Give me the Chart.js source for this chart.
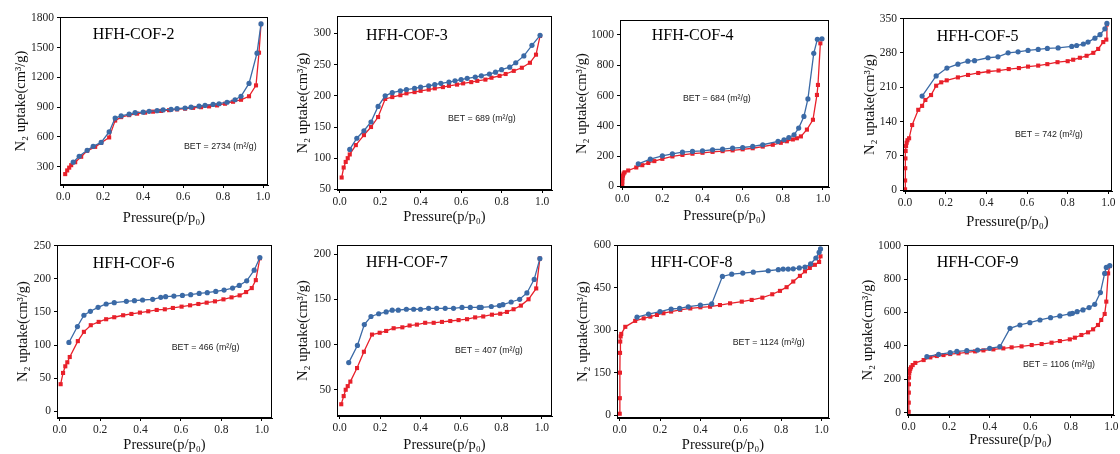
<!DOCTYPE html>
<html><head><meta charset="utf-8">
<script src="https://cdn.jsdelivr.net/npm/chart.js@4.4.1/dist/chart.umd.min.js"></script>
<style>
html,body{margin:0;padding:0;background:#fff;width:1120px;height:454px;overflow:hidden;position:relative}
.pn{position:absolute}
</style></head><body>
<script>
// ---------- DATA ----------
const panelNames = ['HFH-COF-2','HFH-COF-3','HFH-COF-4','HFH-COF-5','HFH-COF-6','HFH-COF-7','HFH-COF-8','HFH-COF-9'];
const betValues = [2734, 689, 684, 742, 466, 407, 1124, 1106];
const xTickValues = [0, 0.2, 0.4, 0.6, 0.8, 1.0];

const cof2YTicks = [300, 600, 900, 1200, 1500, 1800];
const cof3YTicks = [50, 100, 150, 200, 250, 300];
const cof4YTicks = [0, 200, 400, 600, 800, 1000];
const cof5YTicks = [0, 70, 140, 210, 280, 350];
const cof6YTicks = [0, 50, 100, 150, 200, 250];
const cof7YTicks = [50, 100, 150, 200];
const cof8YTicks = [0, 150, 300, 450, 600];
const cof9YTicks = [0, 200, 400, 600, 800, 1000];

// COF-2
const cof2AdsX = [0.01,0.02,0.03,0.04,0.06,0.09,0.12,0.16,0.19,0.23,0.26,0.29,0.33,0.37,0.41,0.45,0.49,0.53,0.57,0.61,0.65,0.69,0.73,0.77,0.81,0.85,0.89,0.93,0.965,0.98,0.99];
const cof2AdsY = [225,262,290,315,345,400,460,500,540,595,765,800,820,835,845,855,862,870,878,885,893,900,908,918,935,955,975,1010,1120,1450,1740];
const cof2DesX = [0.99,0.97,0.93,0.89,0.86,0.82,0.78,0.75,0.71,0.68,0.64,0.61,0.57,0.54,0.50,0.47,0.43,0.40,0.36,0.33,0.29,0.26,0.23,0.19,0.15,0.12,0.08,0.05];
const cof2DesY = [1740,1445,1140,1010,975,950,935,928,918,910,900,892,885,878,872,865,858,850,845,830,812,790,650,545,505,465,405,345];
// COF-3
const cof3AdsX = [0.01,0.02,0.03,0.04,0.05,0.08,0.12,0.155,0.19,0.225,0.26,0.30,0.33,0.37,0.40,0.44,0.47,0.51,0.54,0.58,0.61,0.65,0.68,0.72,0.75,0.79,0.82,0.86,0.90,0.94,0.97,0.99];
const cof3AdsY = [69,85,94,100,106,121,137,150,166,195,198,201,204,206,208,210,212,214,216,218,220,222,224,226,229,232,235,240,245,253,266,296];
const cof3DesX = [0.99,0.95,0.91,0.87,0.84,0.80,0.77,0.74,0.70,0.67,0.63,0.60,0.57,0.54,0.50,0.47,0.44,0.40,0.37,0.33,0.30,0.26,0.225,0.19,0.155,0.12,0.085,0.05];
const cof3DesY = [297,281,264,253,246,242,238,235,232,230,228,226,224,222,220,218,216,214,212,210,208,205,200,183,158,144,132,114];
// COF-4
const cof4AdsX = [0.0003,0.001,0.002,0.004,0.007,0.012,0.03,0.07,0.10,0.13,0.16,0.20,0.25,0.30,0.35,0.40,0.45,0.50,0.55,0.60,0.65,0.70,0.75,0.79,0.82,0.85,0.87,0.89,0.92,0.95,0.97,0.975,0.987];
const cof4AdsY = [5,30,55,72,85,93,105,125,140,155,167,182,198,208,216,222,228,233,238,245,252,263,275,288,298,310,318,330,375,440,604,670,945];
const cof4DesX = [0.995,0.972,0.954,0.925,0.905,0.879,0.856,0.83,0.806,0.776,0.70,0.65,0.60,0.55,0.50,0.45,0.40,0.35,0.30,0.25,0.20,0.14,0.08];
const cof4DesY = [975,972,879,578,462,385,341,323,308,297,275,264,257,253,246,242,235,231,226,215,202,180,149];
// COF-5
const cof5AdsX = [0.0002,0.0005,0.001,0.002,0.003,0.005,0.008,0.012,0.02,0.035,0.065,0.084,0.10,0.128,0.153,0.178,0.205,0.26,0.31,0.36,0.41,0.46,0.51,0.56,0.605,0.655,0.70,0.75,0.80,0.827,0.86,0.893,0.926,0.95,0.975,0.99,0.993];
const cof5AdsY = [2,20,45,65,80,90,97,102,106,133,164,172,184,194,213,220,224,230,235,239,242,244,247,249,252,254,257,261,263,266,270,274,280,288,302,307,338];
const cof5DesX = [0.993,0.983,0.959,0.934,0.90,0.877,0.844,0.82,0.753,0.70,0.655,0.605,0.556,0.507,0.457,0.408,0.342,0.309,0.26,0.206,0.153,0.084];
const cof5DesY = [340,329,317,310,302,298,295,293,290,289,287,285,282,280,272,270,264,263,257,249,233,192];
// COF-6
const cof6AdsX = [0.005,0.017,0.028,0.038,0.05,0.09,0.12,0.154,0.193,0.23,0.27,0.314,0.355,0.397,0.438,0.48,0.52,0.56,0.603,0.645,0.686,0.727,0.768,0.81,0.85,0.89,0.922,0.95,0.97,0.99];
const cof6AdsY = [41,58,68,74,82,106,120,130,135,139,142,145,147,149,151,153,154,156,158,160,162,164,166,169,172,175,180,186,198,231];
const cof6DesX = [0.99,0.962,0.925,0.888,0.855,0.813,0.772,0.73,0.69,0.648,0.607,0.565,0.524,0.50,0.46,0.41,0.37,0.33,0.27,0.23,0.19,0.152,0.12,0.088,0.046];
const cof6DesY = [232,213,197,190,186,183,181,179,178,176,175,174,173,172,169,168,167,166,164,162,157,151,145,128,104];
// COF-7
const cof7AdsX = [0.008,0.02,0.03,0.04,0.053,0.086,0.12,0.16,0.198,0.23,0.267,0.31,0.346,0.382,0.423,0.465,0.506,0.547,0.588,0.63,0.67,0.71,0.753,0.794,0.827,0.86,0.896,0.934,0.972,0.99];
const cof7AdsY = [34,43,50,54,59,74,92,111,113,115,118,119,121,122,124,124,125,126,127,128,130,131,133,134,136,139,143,150,162,195];
const cof7DesX = [0.99,0.962,0.926,0.89,0.848,0.807,0.79,0.75,0.70,0.69,0.646,0.605,0.563,0.522,0.48,0.44,0.40,0.366,0.33,0.29,0.26,0.23,0.193,0.155,0.122,0.088,0.045];
const cof7DesY = [195,172,157,150,147,144,143,142,141,141,141,141,140,140,140,140,139,139,139,138,138,136,134,131,122,99,80];
// COF-8
const cof8AdsX = [0.0005,0.001,0.0015,0.002,0.003,0.005,0.008,0.028,0.077,0.119,0.152,0.185,0.217,0.255,0.30,0.35,0.40,0.448,0.497,0.547,0.605,0.654,0.707,0.756,0.794,0.827,0.86,0.893,0.918,0.942,0.967,0.988,0.995];
const cof8AdsY = [5,60,150,220,260,278,287,312,333,342,348,354,360,366,372,377,381,383,389,395,401,407,415,427,439,452,472,492,508,520,531,541,561];
const cof8DesX = [0.995,0.988,0.972,0.946,0.918,0.89,0.86,0.835,0.81,0.786,0.736,0.662,0.61,0.555,0.509,0.456,0.40,0.34,0.297,0.255,0.20,0.143,0.086];
const cof8DesY = [587,575,555,534,523,520,517,516,516,514,510,505,502,498,490,393,389,383,377,375,366,357,346];
// COF-9
const cof9AdsX = [0.0003,0.0007,0.001,0.0015,0.002,0.003,0.005,0.008,0.012,0.02,0.033,0.074,0.107,0.139,0.172,0.205,0.246,0.287,0.328,0.369,0.418,0.467,0.508,0.557,0.607,0.656,0.705,0.746,0.795,0.82,0.852,0.885,0.91,0.934,0.95,0.967,0.975,0.984,0.992];
const cof9AdsY = [5,60,120,170,210,235,250,262,272,285,298,315,331,339,345,351,355,361,367,373,379,385,391,397,405,411,419,429,439,449,465,481,499,525,555,591,665,834,878];
const cof9DesX = [0.992,0.975,0.967,0.946,0.918,0.89,0.86,0.831,0.808,0.795,0.746,0.70,0.648,0.598,0.549,0.50,0.45,0.40,0.34,0.287,0.238,0.205,0.148,0.09];
const cof9DesY = [880,870,834,719,649,629,615,605,595,591,579,569,555,539,525,505,395,385,375,371,367,359,349,335];

const series = [
  {adsX:cof2AdsX, adsY:cof2AdsY, desX:cof2DesX, desY:cof2DesY, yTicks:cof2YTicks},
  {adsX:cof3AdsX, adsY:cof3AdsY, desX:cof3DesX, desY:cof3DesY, yTicks:cof3YTicks},
  {adsX:cof4AdsX, adsY:cof4AdsY, desX:cof4DesX, desY:cof4DesY, yTicks:cof4YTicks},
  {adsX:cof5AdsX, adsY:cof5AdsY, desX:cof5DesX, desY:cof5DesY, yTicks:cof5YTicks},
  {adsX:cof6AdsX, adsY:cof6AdsY, desX:cof6DesX, desY:cof6DesY, yTicks:cof6YTicks},
  {adsX:cof7AdsX, adsY:cof7AdsY, desX:cof7DesX, desY:cof7DesY, yTicks:cof7YTicks},
  {adsX:cof8AdsX, adsY:cof8AdsY, desX:cof8DesX, desY:cof8DesY, yTicks:cof8YTicks},
  {adsX:cof9AdsX, adsY:cof9AdsY, desX:cof9DesX, desY:cof9DesY, yTicks:cof9YTicks}
];

// ---------- LAYOUT (pixels, axis ranges) ----------
const layouts = [
  {canvas:[0,0],     box:[60,17,268,185],   x:[-0.016,1.025], y:[115,1810], yTitleX:21,   xTitleY:218,   name:[92.7,35],   bet:[184,146.7]},
  {canvas:[280,0],   box:[337,16,552,190],  x:[-0.013,1.049], y:[49,328],   yTitleX:23,   xTitleY:216.7, name:[366,36],    bet:[448,119]},
  {canvas:[560,0],   box:[620,20,829,187],  x:[-0.011,1.03],  y:[-4,1099],  yTitleX:21.7, xTitleY:216,   name:[651.7,36],  bet:[683,99]},
  {canvas:[840,0],   box:[903,18,1112,191], x:[-0.01,1.018],  y:[-1.4,351], yTitleX:30,   xTitleY:221.7, name:[936.7,36.7],bet:[1015,135]},
  {canvas:[0,227],   box:[57,245,272,418],  x:[-0.013,1.05],  y:[-10,251],  yTitleX:22.7, xTitleY:218.3, name:[92.7,263.7],bet:[171.7,347.7]},
  {canvas:[280,227], box:[337,245,552,416], x:[-0.013,1.05],  y:[21,210],   yTitleX:22.7, xTitleY:218.3, name:[366,263],   bet:[455,350.3]},
  {canvas:[560,227], box:[617,245,829,418], x:[-0.013,1.037], y:[-10,601],  yTitleX:22.7, xTitleY:218.3, name:[650.7,263], bet:[732.7,342.7]},
  {canvas:[840,227], box:[907,245,1114,415],x:[-0.008,1.013], y:[-14,1004], yTitleX:28.3, xTitleY:213.3, name:[936.7,263], bet:[1023,364.3]}
];

const BLUE = '#3b6aa6';
const RED = '#e8202a';
const SERIF = '"Liberation Serif", "Times New Roman", serif';
const SANS = '"Liberation Sans", Arial, sans-serif';
const CW = 280, CH = 240;

function zip(xs, ys){ return xs.map((x,i)=>({x:x, y:ys[i]})); }

const framePlugin = {
  id:'frame',
  afterDraw(chart){
    const o = chart.options.plugins.frame;
    const ctx = chart.ctx, a = chart.chartArea;
    ctx.save();
    ctx.strokeStyle = '#000';
    ctx.lineWidth = 1;
    const l = Math.round(a.left)+0.5, t = Math.round(a.top)+0.5, r = Math.round(a.right)-0.5, b = Math.round(a.bottom)-0.5;
    ctx.strokeRect(l, t, r-l, b-t);
    ctx.fillStyle = '#000';
    ctx.textBaseline = 'middle';
    ctx.textAlign = 'left';
    ctx.font = '16px ' + SERIF;
    ctx.fillText(o.name, o.nameX, o.nameY);
    ctx.fillStyle = '#222';
    ctx.font = '8.8px ' + SANS;
    ctx.fillText('BET = ' + o.bet + ' (m²/g)', o.betX, o.betY);
    ctx.restore();
  }
};

function makePanel(i){
  const L = layouts[i], S = series[i];
  const cx = L.canvas[0], cy = L.canvas[1];
  const div = document.createElement('div');
  div.className = 'pn';
  div.style.left = cx+'px'; div.style.top = cy+'px';
  div.style.width = CW+'px'; div.style.height = CH+'px';
  const cv = document.createElement('canvas');
  cv.width = CW; cv.height = CH;
  cv.style.width = CW+'px'; cv.style.height = CH+'px';
  div.appendChild(cv);
  document.body.appendChild(div);
  const [bl, bt, br, bb] = L.box;
  const yW = bl - cx, xH = (cy + CH) - bb, padTop = bt - cy, padRight = (cx + CW) - br;
  const tickFont = {family: SERIF, size: 11.5};
  const titleFont = {family: SERIF, size: 14.5, lineHeight: 1.2};
  const half = 14.5 * 1.2 / 2;
  new Chart(cv, {
    type: 'scatter',
    data: {datasets: [
      {label:'Desorption', data: zip(S.desX, S.desY), showLine:true, borderColor:BLUE, backgroundColor:BLUE,
       pointStyle:'circle', pointRadius:2.6, pointBorderWidth:0, borderWidth:1.3},
      {label:'Adsorption', data: zip(S.adsX, S.adsY), showLine:true, borderColor:RED, backgroundColor:RED,
       pointStyle:'rect', pointRadius:2.9, pointBorderWidth:0, borderWidth:1.3}
    ]},
    options: {
      responsive:false, animation:false, devicePixelRatio:1,
      layout:{padding:{left:0, top:padTop, right:padRight, bottom:0}},
      plugins:{
        legend:{display:false}, tooltip:{enabled:false},
        frame:{name: panelNames[i], bet: betValues[i], nameX: L.name[0]-cx, nameY: L.name[1]-cy, betX: L.bet[0]-cx, betY: L.bet[1]-cy}
      },
      scales:{
        x:{
          type:'linear', min:L.x[0], max:L.x[1],
          afterBuildTicks: s => { s.ticks = xTickValues.map(v => ({value:v})); },
          afterFit: s => { s.height = xH; s.paddingLeft = 0; s.paddingRight = 0; },
          ticks:{callback: v => Number(v).toFixed(1), font:tickFont, color:'#222', padding:2, autoSkip:false, maxRotation:0},
          grid:{drawOnChartArea:false, drawTicks:true, tickLength:3, color:'#000'},
          border:{display:true, color:'#000', width:1},
          title:{display:true, text:'Pressure(p/p₀)', font:titleFont, color:'#111', padding:{top:0, bottom: CH - L.xTitleY - half}}
        },
        y:{
          type:'linear', min:L.y[0], max:L.y[1],
          afterBuildTicks: s => { s.ticks = S.yTicks.map(v => ({value:v})); },
          afterFit: s => { s.width = yW; s.paddingTop = 0; s.paddingBottom = 0; },
          ticks:{callback: v => String(v), font:tickFont, color:'#222', padding:3, autoSkip:false},
          grid:{drawOnChartArea:false, drawTicks:true, tickLength:3, color:'#000'},
          border:{display:true, color:'#000', width:1},
          title:{display:true, text:'N₂ uptake(cm³/g)', font:titleFont, color:'#111', padding:{top: L.yTitleX - half, bottom:0}}
        }
      }
    },
    plugins:[framePlugin]
  });
}

for (let i = 0; i < 8; i++) makePanel(i);
</script>
</body></html>
